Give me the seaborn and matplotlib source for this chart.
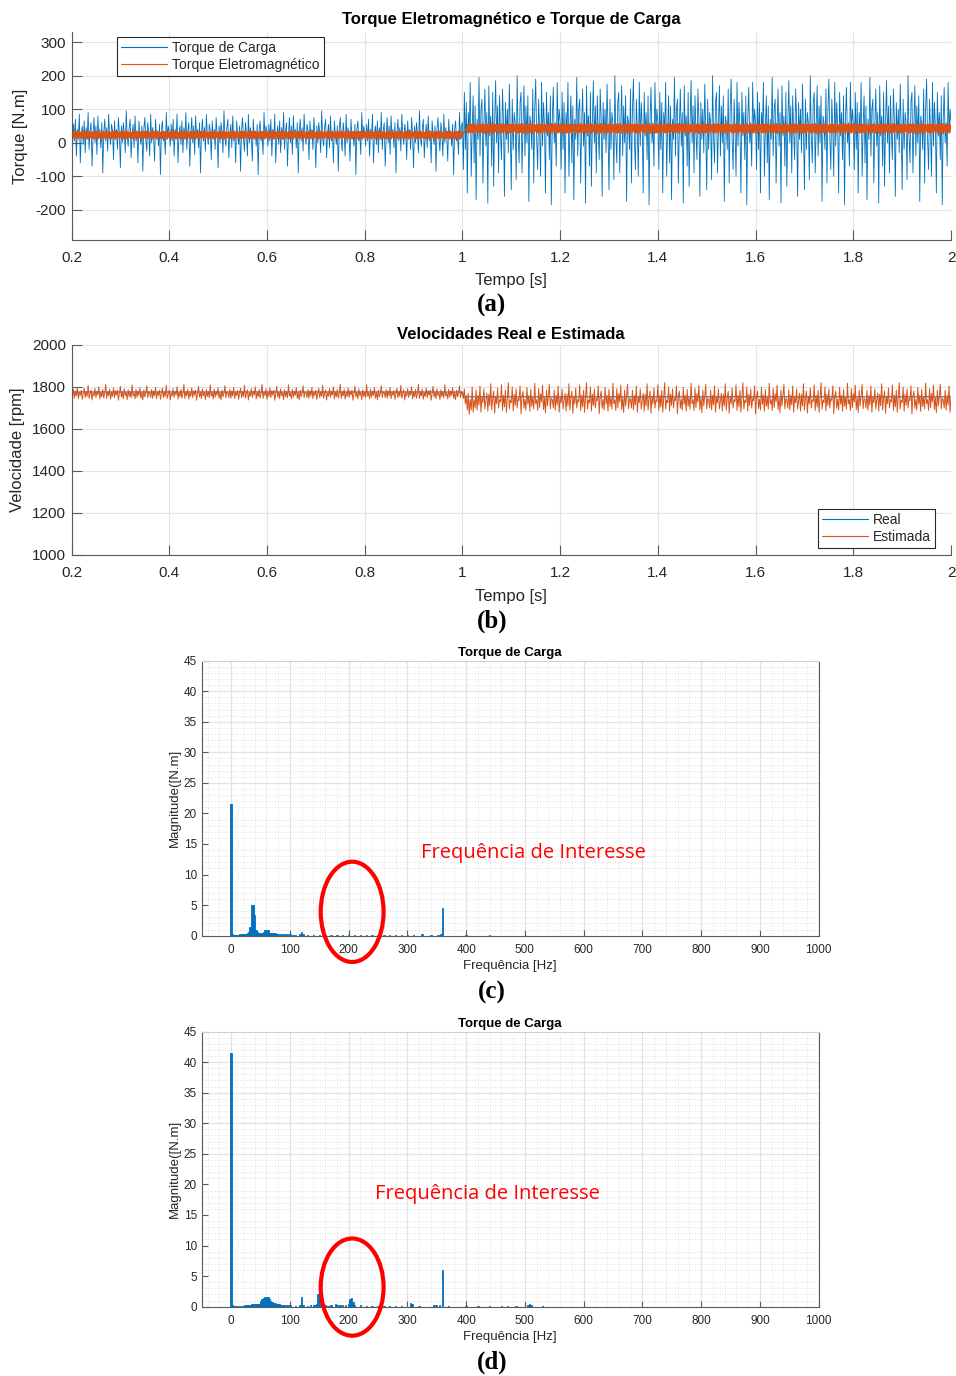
import numpy as np
import pandas as pd
import matplotlib
matplotlib.use("Agg")
import matplotlib.pyplot as plt
from matplotlib.patches import Ellipse
from matplotlib.ticker import MultipleLocator
from matplotlib.lines import Line2D
import seaborn as sns

# ------------------------------------------------------------------ data
T_START, T_SWITCH, T_END = 0.2, 1.0, 2.0
DT_LOAD, DT_TE, DT_EST = 0.002, 0.001, 0.002

# load torque (N.m), hand-read waveform samples, before / after load step
load_before = [30, -10, 55, 5, 70, -40, 40, 15, 85, -60, 25, 50, -5, 65, -30, 45, 10, 90, -20, 35,
               60, -70, 20, 75, 0, 50, -35, 80, 15, 40, -15, 60, -90, 30, 70, 5, 45, -25, 85, 20,
               -5, 55, 35, -50, 65, 10, 40, -20, 75, 25, -75, 50, 0, 60, 30, -30, 95, 15, -10, 45,
               70, -45, 25, 55, -15, 80, 5, 35, -60, 65, 20, -5, 50, -85, 40, 75, 10, -25, 60, 30,
               -40, 85, 0, 45, 20, -55, 70, 15, 35, -10, 55, -95, 40, 65, 5, 25, -35, 90, 10, 50]
load_after = [60, -80, 150, -20, 120, -150, 90, 30, 180, -100, 40, 140, -60, 110, -170, 70, 10, 195, -40, 100,
              130, -120, 50, 160, -10, 90, -180, 170, 20, 80, -70, 150, -130, 60, 185, 0, 110, -90, 140, 30,
              -50, 160, 70, -160, 120, 10, 100, -30, 175, 40, -140, 130, -20, 90, 60, -110, 200, 20, -60, 120,
              150, -90, 50, 170, -40, 110, 0, 140, -175, 80, 60, -20, 160, -120, 100, 190, 10, -80, 130, 40,
              -100, 180, -10, 120, 50, -150, 150, 20, 90, -50, 140, -185, 70, 165, 0, 60, -70, 180, 30, 100]

# electromagnetic torque (N.m)
te_before = [22, 32, 13, 30, 16, 34, 12, 28, 19, 33, 14, 31, 18, 35, 11, 29, 21, 32, 15, 26]
te_ramp = [24, 26, 29, 31, 34, 36, 38, 40, 41, 42]
te_after = [42, 54, 30, 52, 32, 56, 29, 50, 37, 55, 31, 53, 35, 57, 28, 51, 40, 54, 33, 47]

# speed (rpm)
real_before, real_after = 1776, 1753
est_before = [1772, 1750, 1788, 1746, 1781, 1757, 1798, 1744, 1775, 1760, 1784, 1741, 1770, 1794, 1749, 1778, 1755, 1808, 1746, 1768,
              1786, 1738, 1772, 1757, 1792, 1750, 1779, 1762, 1801, 1743, 1775, 1753, 1788, 1747, 1771, 1812, 1745, 1777, 1758, 1790,
              1742, 1774, 1755, 1796, 1749, 1782, 1761, 1785, 1737, 1769, 1803, 1752, 1776, 1744, 1791, 1759, 1773, 1740, 1787, 1754,
              1778, 1748, 1810, 1757, 1771, 1743, 1789, 1751, 1780, 1760, 1797, 1746, 1774, 1739, 1785, 1753, 1772, 1805, 1749, 1777]
est_dip = [1770, 1745, 1790, 1720, 1760, 1690, 1770, 1670, 1740, 1690, 1800, 1680]
est_after = [1740, 1700, 1785, 1690, 1760, 1715, 1805, 1680, 1750, 1725, 1790, 1695, 1735, 1770, 1685, 1765, 1710, 1815, 1690, 1745,
             1780, 1675, 1755, 1720, 1795, 1700, 1740, 1730, 1810, 1688, 1760, 1705, 1785, 1680, 1750, 1820, 1695, 1738, 1725, 1800,
             1685, 1765, 1712, 1790, 1700, 1745, 1735, 1805, 1672, 1755, 1780, 1698, 1742, 1690, 1798, 1718, 1760, 1684, 1788, 1708,
             1750, 1695, 1818, 1720, 1740, 1688, 1792, 1702, 1768, 1728, 1808, 1692, 1748, 1678, 1785, 1710, 1758, 1812, 1696, 1745]

# spectra (frequency Hz, magnitude N.m)
FREQ_STEP = 2.5
spectrum_c = [(0, 21.5), (2.5, 0.3), (5, 0.15), (7.5, 0.1), (10, 0.1), (12.5, 0.15), (15, 0.2), (17.5, 0.2),
              (20, 0.25), (22.5, 0.25), (25, 0.3), (27.5, 0.4), (30, 0.6), (32.5, 1.5), (35, 5.0), (37.5, 5.0),
              (40, 3.4), (42.5, 1.0), (45, 0.6), (47.5, 0.5), (50, 0.5), (52.5, 0.4), (55, 0.6), (57.5, 0.9),
              (60, 1.0), (62.5, 0.9), (65, 0.5), (67.5, 0.5), (70, 0.5), (72.5, 0.5), (75, 0.4), (77.5, 0.25),
              (80, 0.2), (85, 0.2), (90, 0.2), (95, 0.2), (100, 0.2), (105, 0.1), (110, 0.1), (117.5, 0.2),
              (120, 0.6), (122.5, 0.3), (130, 0.1), (140, 0.1), (150, 0.08), (160, 0.08), (170, 0.08), (180, 0.08),
              (190, 0.08), (200, 0.08), (210, 0.08), (220, 0.08), (230, 0.08), (240, 0.08), (250, 0.08),
              (260, 0.08), (270, 0.08), (280, 0.08), (290, 0.08), (300, 0.08), (310, 0.08), (325, 0.25),
              (340, 0.08), (352.5, 0.1), (357.5, 0.2), (360, 4.5), (400, 0.15), (440, 0.05)]
spectrum_d = [(0, 41.5), (2.5, 0.25), (5, 0.15), (10, 0.15), (15, 0.15), (20, 0.15), (22.5, 0.2), (25, 0.25),
              (27.5, 0.3), (30, 0.35), (32.5, 0.35), (35, 0.4), (37.5, 0.45), (40, 0.5), (42.5, 0.45), (45, 0.4),
              (47.5, 0.5), (50, 0.9), (52.5, 1.3), (55, 1.4), (57.5, 1.5), (60, 1.6), (62.5, 1.5), (65, 1.2),
              (67.5, 1.0), (70, 0.7), (72.5, 0.6), (75, 0.6), (77.5, 0.5), (80, 0.45), (82.5, 0.4), (85, 0.35),
              (87.5, 0.3), (90, 0.3), (95, 0.2), (100, 0.2), (110, 0.1), (117.5, 0.2), (120, 1.5), (122.5, 0.2),
              (130, 0.1), (135, 0.2), (140, 0.3), (142.5, 0.3), (145, 0.5), (147.5, 2.0), (150, 3.5), (152.5, 1.0),
              (155, 0.3), (160, 0.2), (165, 0.1), (170, 0.2), (177.5, 0.4), (180, 0.3), (185, 0.2), (190, 0.2),
              (195, 0.3), (200, 0.5), (202.5, 1.2), (205, 1.4), (207.5, 0.8), (210, 0.3), (220, 0.2), (230, 0.15),
              (240, 0.1), (250, 0.1), (260, 0.08), (270, 0.08), (280, 0.08), (290, 0.08), (305, 0.6), (307.5, 0.5),
              (320, 0.1), (345, 0.2), (350, 0.2), (355, 0.2), (360, 6.0), (370, 0.1), (400, 0.1), (420, 0.1),
              (440, 0.1), (460, 0.15), (470, 0.1), (485, 0.1), (505, 0.3), (507.5, 0.4), (510, 0.2), (530, 0.1)]

# text
title_a = "Torque Eletromagnético e Torque de Carga"
title_b = "Velocidades Real e Estimada"
title_fft = "Torque de Carga"
legend_a = ["Torque de Carga", "Torque Eletromagnético"]
legend_b = ["Real", "Estimada"]
annot_text = "Frequência de Interesse"
x_ticks_time = [0.2, 0.4, 0.6, 0.8, 1.0, 1.2, 1.4, 1.6, 1.8, 2.0]
x_tick_labels_time = ["0.2", "0.4", "0.6", "0.8", "1", "1.2", "1.4", "1.6", "1.8", "2"]
y_ticks_a = [-200, -100, 0, 100, 200, 300]
y_ticks_b = [1000, 1200, 1400, 1600, 1800, 2000]
x_ticks_fft = [0, 100, 200, 300, 400, 500, 600, 700, 800, 900, 1000]
y_ticks_fft = [0, 5, 10, 15, 20, 25, 30, 35, 40, 45]
major_y_lines_fft = [25, 30, 35, 40]

# ------------------------------------------------------------------ series
def build(before, after, dt, extra=()):
    n1 = int(round((T_SWITCH - T_START) / dt))
    n2 = int(round((T_END - T_SWITCH) / dt)) + 1
    vals = list(np.resize(before, n1)) + list(extra) + list(np.resize(after, n2 - len(extra)))
    t = T_START + dt * np.arange(len(vals))
    return t, np.array(vals, dtype=float)

t_load, y_load = build(load_before, load_after, DT_LOAD)
t_te, y_te = build(te_before, te_after, DT_TE, te_ramp)
t_est, y_est = build(est_before, est_after, DT_EST, est_dip)
t_real = np.array([T_START, T_SWITCH, T_SWITCH + DT_EST, T_END])
y_real = np.array([real_before, real_before, real_after, real_after], dtype=float)

df_c = pd.DataFrame(spectrum_c, columns=["freq", "mag"])
df_d = pd.DataFrame(spectrum_d, columns=["freq", "mag"])

# ------------------------------------------------------------------ style
sns.set_theme(style="white")
plt.rcParams['font.family'] = ['Liberation Sans', 'DejaVu Sans']
plt.rcParams['axes.unicode_minus'] = False
DARK = '#262626'
GRID = '#e3e3e3'
BLUE = '#0072BD'
ORANGE = '#D95319'

fig = plt.figure(figsize=(9.56, 13.76), dpi=100)
ax_a = fig.add_axes([0.0748, 0.8256, 0.9200, 0.1511])
ax_b = fig.add_axes([0.0748, 0.5967, 0.9200, 0.1526])
ax_c = fig.add_axes([0.2110, 0.3200, 0.6454, 0.1999])
ax_d = fig.add_axes([0.2110, 0.0504, 0.6454, 0.1999])


def style_time_axis(ax):
    ax.set_xlim(T_START, T_END)
    ax.set_xticks(x_ticks_time)
    ax.set_xticklabels(x_tick_labels_time)
    ax.grid(True, color=GRID, lw=0.8)
    ax.set_axisbelow(True)
    for s in ['top', 'right']:
        ax.spines[s].set_visible(False)
    for s in ['left', 'bottom']:
        ax.spines[s].set_color('#5a5a5a')
        ax.spines[s].set_linewidth(0.8)
    ax.tick_params(direction='in', length=7, width=0.8, color='#5a5a5a', labelsize=11,
                   labelcolor=DARK, pad=8, bottom=True, left=True)
    ax.tick_params(axis='y', pad=4)


def legend_box(ax, handles, labels, **kw):
    leg = ax.legend(handles, labels, fontsize=10, frameon=True, fancybox=False, framealpha=1,
                    edgecolor=DARK, handlelength=3.3, handletextpad=0.35, borderpad=0.3,
                    labelspacing=0.2, borderaxespad=0, **kw)
    leg.get_frame().set_linewidth(0.8)
    return leg


# ---- (a)
sns.lineplot(x=t_load, y=y_load, ax=ax_a, color=BLUE, lw=0.6, estimator=None, sort=False)
sns.lineplot(x=t_te, y=y_te, ax=ax_a, color=ORANGE, lw=1.0, estimator=None, sort=False)
style_time_axis(ax_a)
ax_a.set_ylim(-290, 330)
ax_a.set_yticks(y_ticks_a)
ax_a.set_title(title_a, fontsize=12, fontweight='bold', color='black', pad=6)
ax_a.set_xlabel("Tempo [s]", fontsize=12, color=DARK)
ax_a.set_ylabel("Torque [N.m]", fontsize=12, color=DARK)
ax_a.xaxis.set_label_coords(0.5, -0.160)
ax_a.yaxis.set_label_coords(-0.049, 0.5)
legend_box(ax_a, [Line2D([], [], color=BLUE, lw=0.8), Line2D([], [], color=ORANGE, lw=0.8)],
           legend_a, loc='upper left', bbox_to_anchor=(0.0517, 0.976))

# ---- (b)
sns.lineplot(x=t_real, y=y_real, ax=ax_b, color=BLUE, lw=0.8, estimator=None, sort=False)
sns.lineplot(x=t_est, y=y_est, ax=ax_b, color=ORANGE, lw=0.7, estimator=None, sort=False)
style_time_axis(ax_b)
ax_b.set_ylim(1000, 2000)
ax_b.set_yticks(y_ticks_b)
ax_b.set_title(title_b, fontsize=12, fontweight='bold', color='black', pad=4)
ax_b.set_xlabel("Tempo [s]", fontsize=12, color=DARK)
ax_b.set_ylabel("Velocidade [rpm]", fontsize=12, color=DARK)
ax_b.xaxis.set_label_coords(0.5, -0.160)
ax_b.yaxis.set_label_coords(-0.053, 0.5)
legend_box(ax_b, [Line2D([], [], color=BLUE, lw=0.8), Line2D([], [], color=ORANGE, lw=0.8)],
           legend_b, loc='lower right', bbox_to_anchor=(0.9818, 0.033))


# ---- (c), (d)
edges = [float(e) for e in np.arange(-FREQ_STEP / 2, 1000 + FREQ_STEP, FREQ_STEP)]


def fft_panel(ax, df, ell_center, ell_size, text_xy):
    sns.histplot(data=df, x="freq", weights="mag", bins=edges, ax=ax, color=BLUE, alpha=1,
                 edgecolor=BLUE, linewidth=0.6, element='bars')
    ax.set_xlim(-50, 1000)
    ax.set_ylim(0, 45)
    ax.set_xticks(x_ticks_fft)
    ax.set_yticks(y_ticks_fft)
    ax.xaxis.set_minor_locator(MultipleLocator(20))
    ax.yaxis.set_minor_locator(MultipleLocator(1))
    ax.grid(True, which='minor', color='#d6d6d6', lw=0.6, ls=(0, (1, 2)))
    ax.grid(True, which='major', axis='x', color=GRID, lw=0.9)
    for lvl in major_y_lines_fft:
        ax.axhline(lvl, color=GRID, lw=0.9, zorder=0.5)
    ax.set_axisbelow(True)
    for s in ['left', 'bottom', 'right']:
        ax.spines[s].set_color('#5a5a5a')
        ax.spines[s].set_linewidth(0.8)
    ax.spines['top'].set_color('#cfcfcf')
    ax.spines['top'].set_linewidth(0.8)
    ax.tick_params(which='major', direction='in', length=4, width=0.8, color='#5a5a5a',
                   labelsize=8.5, labelcolor=DARK, pad=6, bottom=True, left=True)
    ax.tick_params(axis='y', which='major', pad=3.5)
    ax.tick_params(which='minor', length=0)
    ax.set_title(title_fft, fontsize=9.5, fontweight='bold', color='black', pad=3)
    ax.set_xlabel("Frequência [Hz]", fontsize=9.5, color=DARK)
    ax.set_ylabel("Magnitude([N.m]", fontsize=9.5, color=DARK)
    ax.xaxis.set_label_coords(0.5, -0.09)
    ax.yaxis.set_label_coords(-0.0335, 0.5)
    ell = Ellipse(ell_center, ell_size[0], ell_size[1], fill=False, edgecolor='#ff0000', lw=3,
                  clip_on=False, zorder=5)
    ax.add_patch(ell)
    ax.text(text_xy[0], text_xy[1], annot_text, color='#ff0000', fontsize=14.5,
            family=['Open Sans', 'DejaVu Sans'], ha='center', va='center', zorder=6)


fft_panel(ax_c, df_c, (206, 3.9), (107, 16.4), (515, 13.5))
fft_panel(ax_d, df_d, (206, 3.2), (107, 15.9), (436, 18.4))

# panel letters
for lab, ypx in [("(a)", 305), ("(b)", 621), ("(c)", 992), ("(d)", 1362)]:
    fig.text(492 / 956, 1 - ypx / 1376, lab, ha='center', va='center', fontsize=18,
             fontweight='bold', family=['Liberation Serif', 'DejaVu Serif'], color='black')

fig.savefig("out.png", dpi=100, facecolor='white')
